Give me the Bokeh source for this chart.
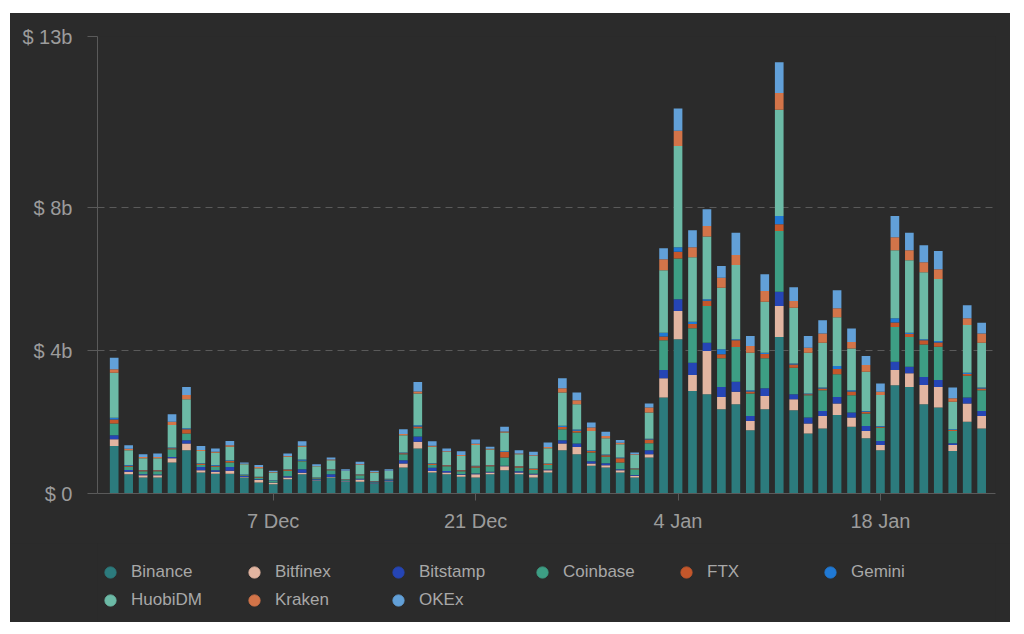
import pandas as pd
from bokeh.plotting import figure
from bokeh.layouts import column
from bokeh.models import (ColumnDataSource, FixedTicker, DatetimeTickFormatter,
                          Legend, LegendItem, Range1d, Plot, Scatter)
from bokeh.embed import file_html
from bokeh.resources import INLINE

# ---------------- data (billions USD, daily volume per exchange) ----------------
exchanges = ["Binance", "Bitfinex", "Bitstamp", "Coinbase", "FTX",
             "Gemini", "HuobiDM", "Kraken", "OKEx"]
colors = ["#2c7b7d", "#e2b5a1", "#2545b5", "#3d9e84", "#c4572b",
          "#2079d4", "#6cbaa6", "#d27449", "#62a0d8"]

dates = pd.date_range("2020-11-26", "2021-01-25", freq="D")

binance = [1.33, 0.54, 0.45, 0.45, 0.87, 1.21, 0.59, 0.55, 0.55, 0.45,
           0.31, 0.26, 0.40, 0.54, 0.36, 0.45, 0.33, 0.33, 0.28, 0.33,
           0.73, 1.26, 0.59, 0.54, 0.47, 0.45, 0.54, 0.65, 0.54, 0.45,
           0.59, 1.21, 1.10, 0.78, 0.73, 0.59, 0.45, 1.01, 2.69, 4.32,
           2.87, 2.78, 2.36, 2.50, 1.77, 2.36, 4.38, 2.33, 1.68, 1.82,
           2.20, 1.87, 1.55, 1.21, 3.03, 2.98, 2.50, 2.41, 1.19, 2.01, 1.82]
bitfinex = [0.19, 0.07, 0.06, 0.06, 0.12, 0.19, 0.06, 0.06, 0.09, 0.01,
            0.07, 0.04, 0.05, 0.04, 0.01, 0.01, 0.01, 0.06, 0.01, 0.01,
            0.11, 0.19, 0.04, 0.05, 0.05, 0.09, 0.05, 0.11, 0.05, 0.08,
            0.06, 0.19, 0.20, 0.06, 0.06, 0.06, 0.05, 0.09, 0.54, 0.79,
            0.45, 1.21, 0.34, 0.35, 0.26, 0.37, 0.87, 0.31, 0.28, 0.35,
            0.32, 0.26, 0.20, 0.15, 0.43, 0.39, 0.54, 0.57, 0.17, 0.51, 0.35]
bitstamp = [0.11, 0.05, 0.03, 0.02, 0.03, 0.09, 0.09, 0.04, 0.10, 0.03,
            0.02, 0.01, 0.03, 0.10, 0.03, 0.08, 0.02, 0.02, 0.02, 0.03,
            0.09, 0.15, 0.09, 0.04, 0.02, 0.02, 0.02, 0.02, 0.03, 0.02,
            0.02, 0.09, 0.10, 0.06, 0.06, 0.03, 0.02, 0.11, 0.23, 0.33,
            0.34, 0.23, 0.28, 0.28, 0.14, 0.22, 0.40, 0.14, 0.17, 0.14,
            0.18, 0.14, 0.14, 0.11, 0.23, 0.18, 0.22, 0.20, 0.05, 0.17, 0.14]
coinbase = [0.33, 0.09, 0.08, 0.09, 0.22, 0.19, 0.06, 0.10, 0.13, 0.02,
            0.05, 0.04, 0.16, 0.22, 0.03, 0.11, 0.02, 0.10, 0.02, 0.02,
            0.17, 0.23, 0.08, 0.13, 0.08, 0.17, 0.15, 0.23, 0.11, 0.11,
            0.13, 0.31, 0.31, 0.25, 0.18, 0.19, 0.16, 0.20, 0.83, 1.14,
            0.97, 1.03, 0.81, 0.97, 0.63, 0.84, 1.70, 0.74, 0.62, 0.58,
            0.64, 0.48, 0.35, 0.37, 0.97, 0.83, 0.91, 0.93, 0.34, 0.61, 0.58]
ftx = [0.11, 0.03, 0.03, 0.03, 0.03, 0.12, 0.03, 0.03, 0.04, 0.01,
       0.01, 0.01, 0.03, 0.02, 0.01, 0.02, 0.01, 0.02, 0.01, 0.01,
       0.03, 0.05, 0.03, 0.03, 0.03, 0.03, 0.03, 0.15, 0.03, 0.03,
       0.03, 0.06, 0.05, 0.04, 0.04, 0.12, 0.02, 0.10, 0.11, 0.19,
       0.12, 0.15, 0.11, 0.19, 0.06, 0.12, 0.19, 0.09, 0.03, 0.05,
       0.15, 0.11, 0.05, 0.03, 0.13, 0.09, 0.12, 0.12, 0.03, 0.05, 0.05]
gemini = [0.05, 0.02, 0.01, 0.01, 0.02, 0.03, 0.02, 0.02, 0.02, 0.01,
          0.01, 0.01, 0.01, 0.03, 0.01, 0.01, 0.01, 0.01, 0.01, 0.01,
          0.02, 0.03, 0.02, 0.01, 0.01, 0.02, 0.01, 0.02, 0.01, 0.01,
          0.01, 0.04, 0.03, 0.02, 0.02, 0.02, 0.01, 0.02, 0.10, 0.13,
          0.06, 0.04, 0.14, 0.03, 0.03, 0.03, 0.23, 0.03, 0.02, 0.03,
          0.08, 0.03, 0.02, 0.02, 0.12, 0.03, 0.03, 0.04, 0.02, 0.03, 0.03]
huobidm = [1.26, 0.41, 0.33, 0.33, 0.63, 0.81, 0.34, 0.34, 0.38, 0.29,
           0.24, 0.22, 0.35, 0.36, 0.31, 0.25, 0.23, 0.26, 0.24, 0.22,
           0.48, 0.89, 0.46, 0.36, 0.39, 0.58, 0.43, 0.53, 0.33, 0.35,
           0.43, 0.93, 0.71, 0.54, 0.46, 0.37, 0.37, 0.74, 1.75, 2.83,
           1.81, 1.76, 1.72, 2.08, 1.05, 1.43, 2.98, 1.56, 1.14, 1.25,
           1.37, 1.17, 1.10, 0.87, 1.90, 2.03, 1.88, 1.74, 0.77, 1.34, 1.25]
kraken = [0.10, 0.04, 0.03, 0.03, 0.09, 0.12, 0.03, 0.03, 0.04, 0.01,
          0.03, 0.01, 0.02, 0.03, 0.01, 0.02, 0.01, 0.02, 0.01, 0.01,
          0.04, 0.06, 0.03, 0.02, 0.03, 0.03, 0.02, 0.03, 0.02, 0.02,
          0.03, 0.12, 0.11, 0.10, 0.06, 0.04, 0.02, 0.14, 0.31, 0.43,
          0.28, 0.29, 0.28, 0.28, 0.19, 0.30, 0.47, 0.19, 0.14, 0.26,
          0.25, 0.18, 0.19, 0.09, 0.37, 0.28, 0.28, 0.27, 0.10, 0.19, 0.26]
okex = [0.32, 0.10, 0.08, 0.10, 0.21, 0.22, 0.11, 0.09, 0.12, 0.04,
        0.06, 0.04, 0.07, 0.12, 0.05, 0.06, 0.04, 0.07, 0.04, 0.04,
        0.13, 0.26, 0.12, 0.08, 0.10, 0.12, 0.06, 0.13, 0.09, 0.10,
        0.13, 0.28, 0.22, 0.14, 0.12, 0.08, 0.05, 0.11, 0.31, 0.62,
        0.47, 0.47, 0.33, 0.62, 0.28, 0.47, 0.86, 0.39, 0.33, 0.37,
        0.50, 0.38, 0.25, 0.23, 0.59, 0.49, 0.47, 0.51, 0.30, 0.36, 0.30]

tick_dates = ["2020-12-07", "2020-12-21", "2021-01-04", "2021-01-18"]
ytick_values = [0, 4, 8, 12.8]
ytick_labels = ["$ 0", "$ 4b", "$ 8b", "$ 13b"]

# ---------------- chart ----------------
BG = "#2b2b2b"
DAY = 86400000

source = ColumnDataSource(dict(
    date=dates, Binance=binance, Bitfinex=bitfinex, Bitstamp=bitstamp,
    Coinbase=coinbase, FTX=ftx, Gemini=gemini, HuobiDM=huobidm,
    Kraken=kraken, OKEx=okex))

p = figure(x_axis_type="datetime",
           x_range=Range1d(dates[0] - pd.Timedelta(hours=27.7),
                           dates[-1] + pd.Timedelta(hours=23.0)),
           y_range=Range1d(0, 12.8),
           frame_width=898, frame_height=457,
           min_border_left=87, min_border_right=15,
           min_border_top=23, min_border_bottom=50,
           output_backend="svg", toolbar_location=None,
           background_fill_color=BG, border_fill_color=BG,
           outline_line_color=None,
           styles={"background-color": BG})

p.vbar_stack(exchanges, x="date", width=0.6 * DAY, color=colors,
             line_color=None, source=source)

p.xaxis.ticker = FixedTicker(ticks=[pd.Timestamp(d).value // 10**6 for d in tick_dates])
p.xaxis.formatter = DatetimeTickFormatter(days="%-d %b", months="%-d %b")
p.yaxis.ticker = FixedTicker(ticks=ytick_values)
p.yaxis.major_label_overrides = {v: l for v, l in zip(ytick_values, ytick_labels)}

for ax in (p.xaxis, p.yaxis):
    ax.axis_line_color = "#5a5a5a"
    ax.major_tick_line_color = "#5a5a5a"
    ax.minor_tick_line_color = None
    ax.major_tick_in = 0
    ax.major_label_text_color = "#9c9c9c"
    ax.major_label_text_font = "Liberation Sans"
    ax.major_label_text_font_size = "20px"
p.yaxis.major_tick_out = 10
p.yaxis.major_label_standoff = 15
p.xaxis.major_tick_out = 7
p.xaxis.major_label_standoff = 9

p.xgrid.grid_line_color = None
p.ygrid.grid_line_color = "#5a5a5a"
p.ygrid.grid_line_dash = "7 5"

# ---------------- legend strip (circle markers) ----------------
pl = Plot(width=1000, height=79, x_range=Range1d(0, 1), y_range=Range1d(0, 1),
          min_border_left=87, min_border_right=15, min_border_top=0,
          min_border_bottom=0, output_backend="svg", toolbar_location=None,
          background_fill_color=BG, border_fill_color=BG,
          outline_line_color=None,
          styles={"background-color": BG})

items = []
for name, col in zip(exchanges, colors):
    # one point kept outside the visible range: only its legend swatch shows
    src = ColumnDataSource(dict(x=[-10.0], y=[-10.0]))
    r = pl.add_glyph(src, Scatter(x="x", y="y", marker="circle", size=12,
                                  fill_color=col, line_color=col))
    items.append(LegendItem(label=name, renderers=[r]))

legend = Legend(items=items, orientation="horizontal", ncols=6,
                location=(-1, 8), margin=0, padding=0, spacing=0,
                glyph_width=28, glyph_height=28, label_standoff=7,
                label_width=109, label_text_font="Liberation Sans",
                label_text_font_size="17px", label_text_color="#a8a8a8",
                background_fill_alpha=0, border_line_alpha=0)
pl.add_layout(legend)

layout = column(p, pl, spacing=0, margin=(13, 0, 0, 10),
                styles={"background-color": BG})

open("out.html", "w").write(file_html(layout, INLINE))
